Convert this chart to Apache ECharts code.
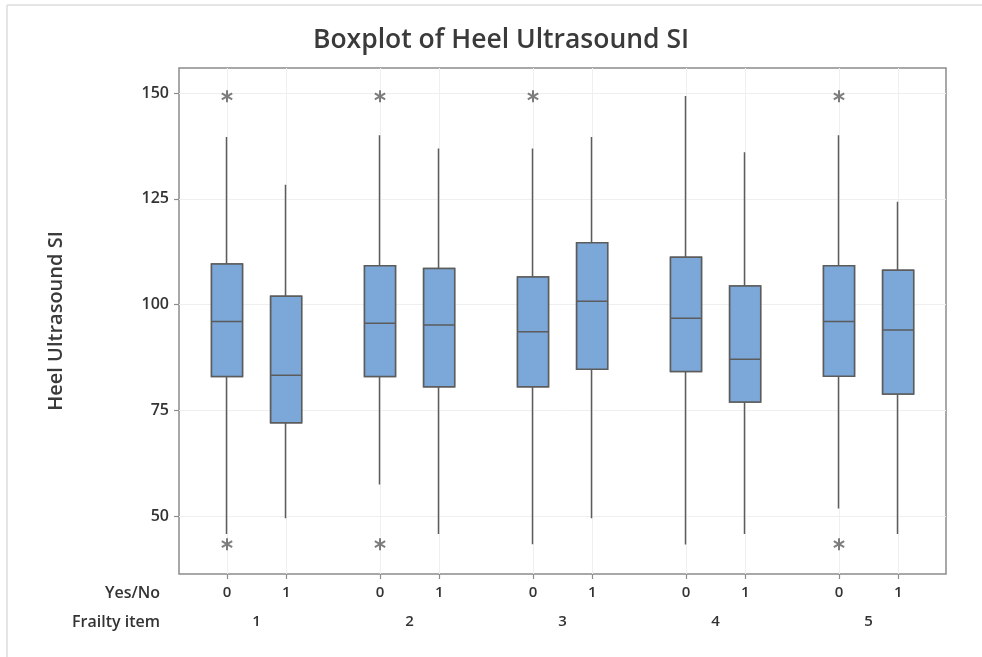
<!DOCTYPE html>
<html>
<head>
<meta charset="utf-8">
<script src="https://cdn.jsdelivr.net/npm/echarts@6/dist/echarts.min.js"></script>
<style>
html,body{margin:0;padding:0;background:#fff;}
#chart{width:982px;height:657px;}
</style>
</head>
<body>
<div id="chart"></div>
<script>
// ---- data ----
var frailtyItems = ['1', '2', '3', '4', '5'];
var yesNo = ['0', '1'];
var whiskerLow  = [45.8, 49.5, 57.5, 45.8, 43.4, 49.5, 43.3, 45.8, 51.8, 45.8];
var q1          = [83.0, 72.1, 83.0, 80.6, 80.6, 84.7, 84.2, 77.0, 83.1, 78.9];
var median      = [96.0, 83.3, 95.6, 95.2, 93.6, 100.8, 96.8, 87.1, 96.0, 94.0];
var q3          = [109.6, 102.0, 109.2, 108.5, 106.5, 114.6, 111.2, 104.4, 109.2, 108.1];
var whiskerHigh = [139.6, 128.3, 140.0, 136.9, 136.9, 139.6, 149.3, 136.0, 140.0, 124.3];
// outliers: [box index, value]
var outliers = [[0, 149.2], [0, 43.4], [2, 149.2], [2, 43.4], [4, 149.2], [8, 149.2], [8, 43.4]];
var yTicks = [50, 75, 100, 125, 150];

// ---- layout (axis units = pixels of the plot area) ----
var X_SPAN = 767, FIRST = 48, GROUP_STEP = 153, PAIR_STEP = 59.2;
function boxPos(i) {
  var g = Math.floor(i / 2), j = i % 2;
  return FIRST + GROUP_STEP * g + PAIR_STEP * j;
}
var positions = [], posLabel = {};
for (var i = 0; i < frailtyItems.length * yesNo.length; i++) {
  positions.push(boxPos(i));
  posLabel[boxPos(i).toFixed(2)] = yesNo[i % 2];
}
var groupCenters = [], groupLabel = {};
frailtyItems.forEach(function (f, g) {
  var c = (boxPos(2 * g) + boxPos(2 * g + 1)) / 2;
  groupCenters.push(c);
  groupLabel[c.toFixed(2)] = f;
});

var candleData = [], boxData = [];
for (var k = 0; k < positions.length; k++) {
  candleData.push([positions[k], q1[k], q3[k], whiskerLow[k], whiskerHigh[k]]);
  boxData.push([positions[k], q1[k], q1[k], median[k], q3[k], q3[k]]);
}
var outlierData = outliers.map(function (o) { return [positions[o[0]], o[1]]; });

// asterisk symbol
function asteriskPath() {
  var L = 6, W = 1.0, parts = [];
  [90, 30, 150].forEach(function (deg) {
    var t = deg * Math.PI / 180, c = Math.cos(t), s = Math.sin(t);
    var pts = [[L, W], [L, -W], [-L, -W], [-L, W]].map(function (p) {
      return [(p[0] * c - p[1] * s).toFixed(3), (p[0] * s + p[1] * c).toFixed(3)];
    });
    parts.push('M' + pts[0].join(',') + 'L' + pts[1].join(',') + 'L' + pts[2].join(',') + 'L' + pts[3].join(',') + 'Z');
  });
  return 'path://' + parts.join('');
}

var FONT = 'Open Sans';
var TXT = '#333333';
var chart = echarts.init(document.getElementById('chart'), null, {renderer: 'canvas'});
chart.setOption({
  animation: false,
  backgroundColor: '#ffffff',
  grid: {
    left: 179, top: 68, width: X_SPAN, height: 506,
    show: true, borderColor: '#8c8c8c', borderWidth: 1.5, backgroundColor: 'transparent'
  },
  xAxis: [{
    type: 'value', min: 0, max: X_SPAN, position: 'bottom',
    axisLine: {show: false},
    axisTick: {show: true, customValues: positions, length: 5, lineStyle: {color: '#8c8c8c', width: 1.2}},
    axisLabel: {
      customValues: positions, margin: 11,
      fontFamily: FONT, fontSize: 15, fontWeight: 600, color: TXT,
      formatter: function (v) { return posLabel[v.toFixed(2)] || ''; }
    },
    splitLine: {show: true, lineStyle: {color: '#efefef', width: 1}}
  }, {
    type: 'value', min: 0, max: X_SPAN, position: 'bottom', offset: 29,
    axisLine: {show: false}, axisTick: {show: false},
    axisLabel: {
      customValues: groupCenters, margin: 11,
      fontFamily: FONT, fontSize: 15, fontWeight: 600, color: TXT,
      formatter: function (v) { return groupLabel[v.toFixed(2)] || ''; }
    },
    splitLine: {show: false}
  }],
  yAxis: {
    type: 'value', min: 36.35, max: 155.9,
    name: 'Heel Ultrasound SI', nameLocation: 'middle', nameGap: 113,
    nameTextStyle: {fontFamily: FONT, fontSize: 20, fontWeight: 600, color: '#3a3a3a'},
    axisLine: {show: false},
    axisTick: {show: true, customValues: yTicks, length: 5, lineStyle: {color: '#8c8c8c', width: 1.2}},
    axisLabel: {customValues: yTicks, margin: 10, fontFamily: FONT, fontSize: 16, fontWeight: 600, color: TXT},
    splitLine: {show: true, lineStyle: {color: '#efefef', width: 1}}
  },
  graphic: [
    {type: 'line', shape: {x1: 7, y1: 5, x2: 982, y2: 5}, style: {stroke: '#dcdcdc', lineWidth: 1.5}, silent: true},
    {type: 'line', shape: {x1: 7, y1: 5, x2: 7, y2: 657}, style: {stroke: '#dcdcdc', lineWidth: 1.5}, silent: true},
    {type: 'text', x: 501, y: 40, style: {text: 'Boxplot of Heel Ultrasound SI', font: '600 26.5px "Open Sans"', fill: '#3a3a3a', textAlign: 'center', textVerticalAlign: 'middle'}},
    {type: 'text', x: 160, y: 593, style: {text: 'Yes/No', font: '600 16px "Open Sans"', fill: TXT, textAlign: 'right', textVerticalAlign: 'middle'}},
    {type: 'text', x: 160, y: 622, style: {text: 'Frailty item', font: '600 16px "Open Sans"', fill: TXT, textAlign: 'right', textVerticalAlign: 'middle'}}
  ],
  series: [{
    type: 'candlestick', name: 'whiskers', data: candleData, barWidth: 31,
    itemStyle: {color: '#7ba7d9', color0: '#7ba7d9', borderColor: '#5c5c5c', borderColor0: '#5c5c5c', borderWidth: 1.5}
  }, {
    type: 'boxplot', name: 'boxes', data: boxData, boxWidth: [31, 31],
    itemStyle: {color: '#7ba7d9', borderColor: '#5c5c5c', borderWidth: 1.5}
  }, {
    type: 'scatter', name: 'outliers', data: outlierData,
    symbol: asteriskPath(), symbolKeepAspect: true, symbolSize: 12,
    itemStyle: {color: '#5e5e5e'}
  }]
});
</script>
</body>
</html>
